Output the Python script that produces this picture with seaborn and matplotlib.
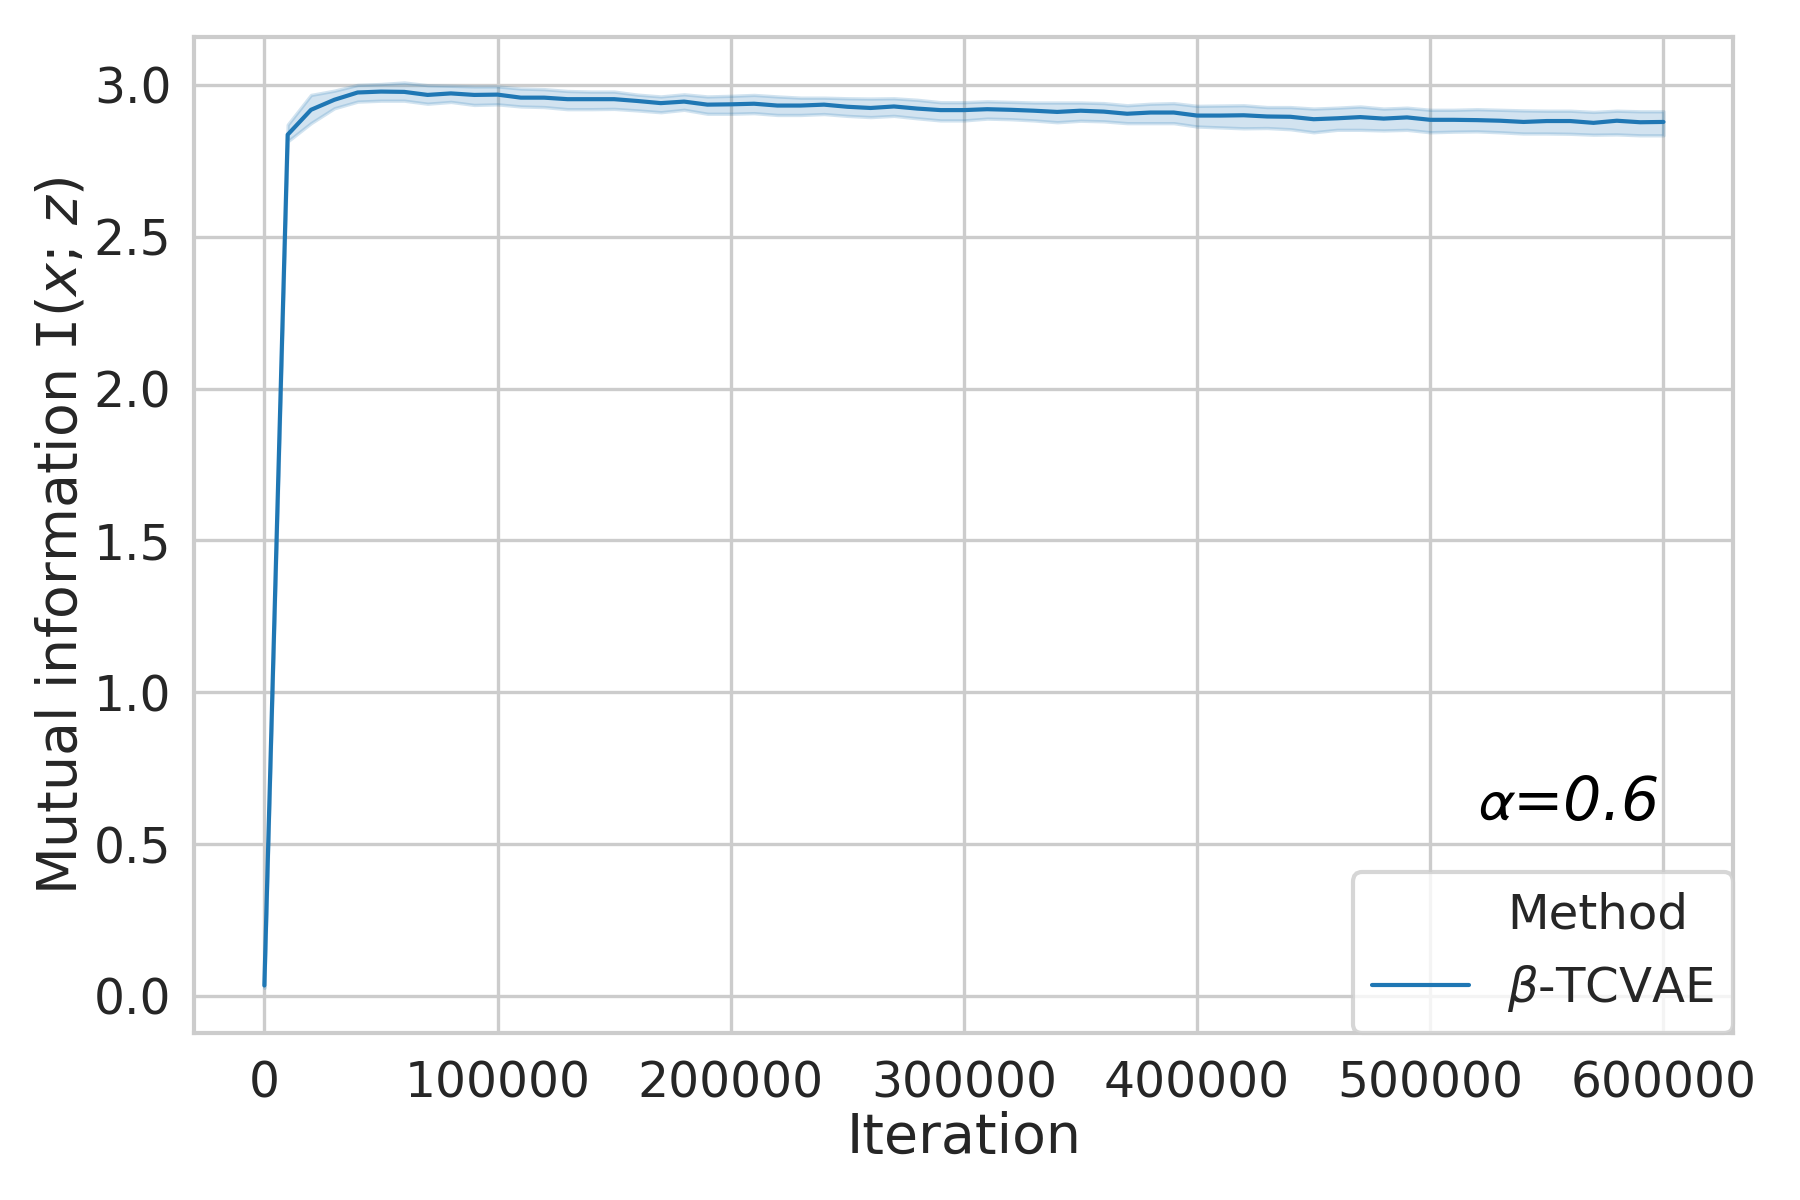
import numpy as np
import pandas as pd
import matplotlib
matplotlib.use("Agg")
import matplotlib.pyplot as plt
import seaborn as sns
from matplotlib.lines import Line2D

# Iterations (every 10k steps)
iterations = list(range(0, 610000, 10000))

# Mean mutual information per iteration
mi_mean = [
    0.034, 2.836, 2.918, 2.951, 2.975, 2.978, 2.977, 2.967, 2.972, 2.967,
    2.968, 2.958, 2.958, 2.953, 2.953, 2.953, 2.947, 2.940, 2.945, 2.935,
    2.936, 2.938, 2.932, 2.932, 2.935, 2.928, 2.924, 2.929, 2.922, 2.917,
    2.917, 2.920, 2.918, 2.915, 2.911, 2.915, 2.912, 2.905, 2.909, 2.909,
    2.899, 2.899, 2.900, 2.896, 2.895, 2.887, 2.890, 2.894, 2.889, 2.893,
    2.885, 2.885, 2.884, 2.882, 2.878, 2.881, 2.881, 2.875, 2.882, 2.877,
    2.878,
]

# Confidence band
mi_lower = [
    0.026, 2.814, 2.874, 2.923, 2.945, 2.948, 2.948, 2.938, 2.944, 2.934,
    2.936, 2.929, 2.927, 2.920, 2.920, 2.921, 2.916, 2.910, 2.918, 2.905,
    2.905, 2.907, 2.901, 2.901, 2.904, 2.898, 2.894, 2.898, 2.890, 2.883,
    2.883, 2.889, 2.887, 2.883, 2.877, 2.882, 2.880, 2.874, 2.874, 2.874,
    2.863, 2.860, 2.857, 2.858, 2.854, 2.844, 2.852, 2.852, 2.850, 2.852,
    2.844, 2.846, 2.847, 2.844, 2.840, 2.840, 2.839, 2.836, 2.837, 2.834,
    2.834,
]
mi_upper = [
    0.042, 2.869, 2.967, 2.981, 3.000, 3.003, 3.008, 2.999, 2.997, 2.995,
    2.995, 2.988, 2.986, 2.980, 2.978, 2.978, 2.968, 2.962, 2.969, 2.962,
    2.964, 2.967, 2.962, 2.958, 2.958, 2.956, 2.955, 2.956, 2.951, 2.943,
    2.943, 2.946, 2.944, 2.942, 2.942, 2.942, 2.940, 2.933, 2.938, 2.940,
    2.931, 2.932, 2.933, 2.927, 2.927, 2.922, 2.925, 2.929, 2.922, 2.925,
    2.918, 2.918, 2.920, 2.918, 2.916, 2.915, 2.915, 2.911, 2.915, 2.913,
    2.913,
]

method_name = r"$\beta$-TCVAE"
alpha_label = r"$\alpha$=0.6"

df = pd.DataFrame({
    "Iteration": iterations,
    "MI": mi_mean,
    "Method": method_name,
})

sns.set_style("whitegrid")
plt.rcParams["font.family"] = ["DejaVu Sans"]

fig, ax = plt.subplots(figsize=(6, 4), dpi=300)
fig.subplots_adjust(left=0.108, right=0.963, top=0.969, bottom=0.139)

color = sns.color_palette()[0]
sns.lineplot(data=df, x="Iteration", y="MI", hue="Method", palette=[color],
             linewidth=1.0, errorbar=None, ax=ax, legend=False)
ax.fill_between(iterations, mi_lower, mi_upper, color=color, alpha=0.2,
                linewidth=0.8)

ax.set_xlabel("Iteration", fontsize=13.3, labelpad=0.8)
ax.set_ylabel(r"Mutual information $\mathtt{I}(x;\,z)$", fontsize=13.3,
              labelpad=1.3)
ax.tick_params(labelsize=11.7)
ax.tick_params(axis="x", pad=2.8)
ax.tick_params(axis="y", pad=2)
ax.grid(True, color="#cccccc", linewidth=0.8)
for spine in ax.spines.values():
    spine.set_color("#cccccc")
    spine.set_linewidth(1.0)

ax.text(0.892, 0.231, alpha_label, transform=ax.transAxes, fontsize=14.5,
        style="italic", math_fontfamily="stixsans", color="black",
        ha="center", va="center")

blank = Line2D([], [], linestyle="none")
line = Line2D([], [], color=color, linewidth=1.0)
ax.legend([blank, line], ["Method", method_name], loc="lower right",
          borderaxespad=0, fontsize=11.6)

plt.savefig("out.png", dpi=300)
plt.close()
